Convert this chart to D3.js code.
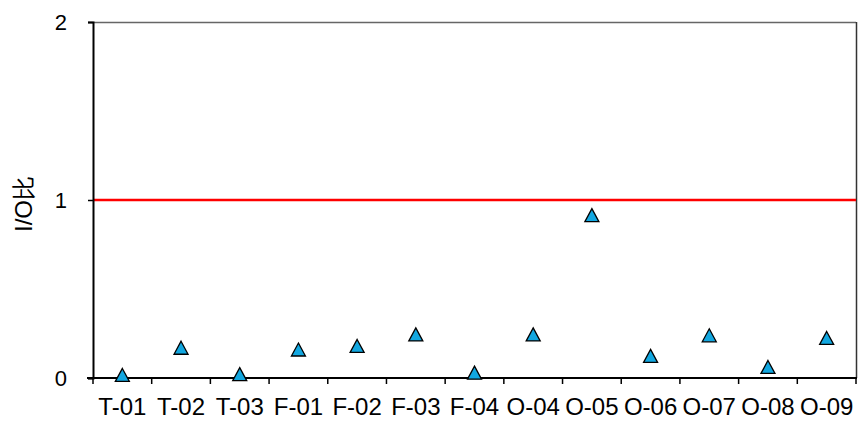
<!DOCTYPE html>
<html>
<head>
<meta charset="utf-8">
<script src="https://cdn.jsdelivr.net/npm/d3@7"></script>
<style>
  body { margin: 0; background: #fff; }
  text { font-family: "Liberation Sans", Arial, sans-serif; fill: #000; }
</style>
</head>
<body>
<div id="chart"></div>
<script>
var categories = ["T-01", "T-02", "T-03", "F-01", "F-02", "F-03", "F-04",
                  "O-04", "O-05", "O-06", "O-07", "O-08", "O-09"];
var ioRatio = [0.017, 0.17, 0.022, 0.16, 0.18, 0.245, 0.03,
               0.245, 0.915, 0.124, 0.24, 0.062, 0.225];
var yTicks = [0, 1, 2];
var refValue = 1;

var width = 860, height = 422;
var margin = { top: 22, left: 93, right: 4, bottom: 44 };
var innerW = width - margin.left - margin.right,
    innerH = height - margin.top - margin.bottom;

var svg = d3.select("#chart").append("svg")
    .attr("width", width)
    .attr("height", height);

var g = svg.append("g")
    .attr("transform", "translate(" + margin.left + "," + margin.top + ")");

var x = d3.scaleBand().domain(categories).range([0, innerW]);
var y = d3.scaleLinear().domain([0, 2]).range([innerH, 0]);

// frame top and right
g.append("line")
    .attr("x1", 0).attr("x2", innerW).attr("y1", 0.5).attr("y2", 0.5)
    .attr("stroke", "#666").attr("stroke-width", 1.5);
g.append("line")
    .attr("x1", innerW + 0.5).attr("x2", innerW + 0.5).attr("y1", 0).attr("y2", innerH)
    .attr("stroke", "#333").attr("stroke-width", 1.5);

// reference line at 1
g.append("line")
    .attr("x1", 0).attr("x2", innerW)
    .attr("y1", y(refValue)).attr("y2", y(refValue))
    .attr("stroke", "#ff0000").attr("stroke-width", 2.5);

// y axis
var yAxis = d3.axisLeft(y).tickValues(yTicks).tickFormat(d3.format("d"))
    .tickSize(5).tickPadding(21);
var yAxisEl = g.append("g").call(yAxis);
yAxisEl.attr("font-size", 22).attr("font-family", null);
yAxisEl.select(".domain").attr("stroke", "#000").attr("stroke-width", 2);
yAxisEl.selectAll(".tick line").attr("stroke", "#000").attr("stroke-width", 1.5);
yAxisEl.selectAll(".tick text").style("font-size", "22px");

// x axis, ticks on category boundaries
var xAxisEl = g.append("g").attr("transform", "translate(0," + innerH + ")");
xAxisEl.append("line")
    .attr("x1", -6).attr("x2", innerW + 1)
    .attr("stroke", "#000").attr("stroke-width", 2);
var bounds = categories.map(function(c) { return x(c); }).concat([innerW]);
xAxisEl.selectAll(".xtick").data(bounds).enter().append("line")
    .attr("class", "xtick")
    .attr("x1", function(d) { return d; }).attr("x2", function(d) { return d; })
    .attr("y1", 0).attr("y2", 6)
    .attr("stroke", "#000").attr("stroke-width", 1.5);
xAxisEl.selectAll(".xlabel").data(categories).enter().append("text")
    .attr("class", "xlabel")
    .attr("x", function(d) { return x(d) + x.bandwidth() / 2; })
    .attr("y", 37)
    .attr("text-anchor", "middle")
    .style("font-size", "24px")
    .text(function(d) { return d; });

// y axis title
svg.append("text")
    .attr("transform", "translate(32,204) rotate(-90)")
    .attr("text-anchor", "middle")
    .style("font-size", "24px")
    .text("I/O比");

// triangle markers, box centred on the value
var tri = "M0,-7L7,6L-7,6Z";
g.selectAll(".pt").data(ioRatio).enter().append("path")
    .attr("class", "pt")
    .attr("d", tri)
    .attr("transform", function(d, i) {
      return "translate(" + (x(categories[i]) + x.bandwidth() / 2) + "," + (y(d) + 0.5) + ")";
    })
    .attr("fill", "#12a7e0")
    .attr("stroke", "#000")
    .attr("stroke-width", 1.3)
    .attr("stroke-linejoin", "miter");
</script>
</body>
</html>
